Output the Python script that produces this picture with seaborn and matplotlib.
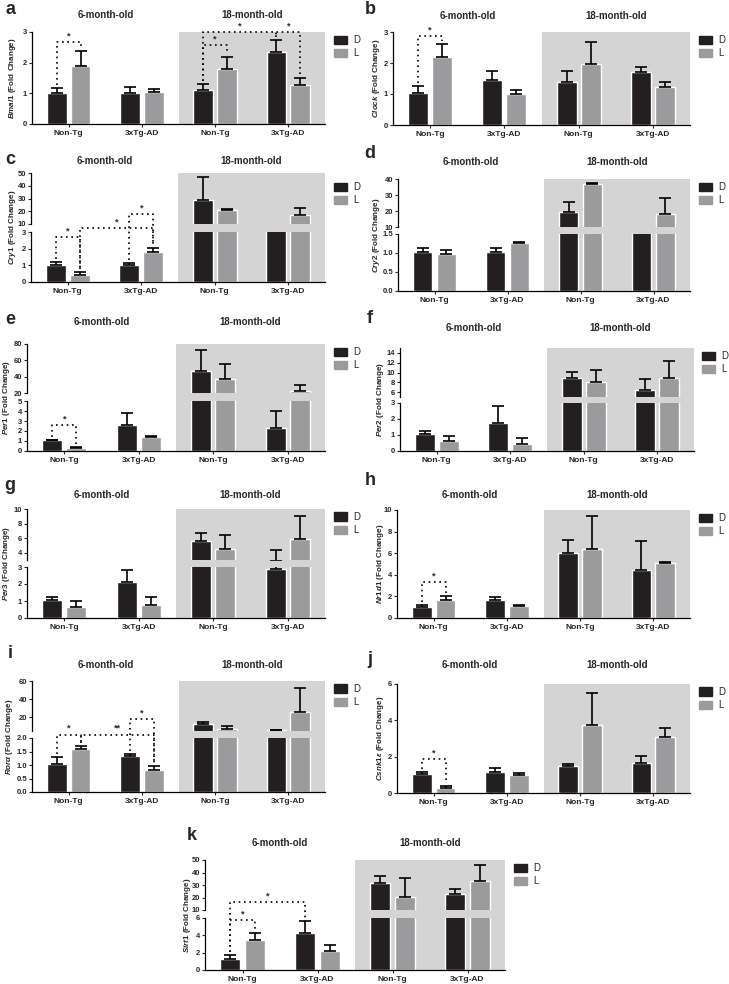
import numpy as np
import pandas as pd
import matplotlib
matplotlib.use("Agg")
import matplotlib.pyplot as plt
import seaborn as sns
from matplotlib.lines import Line2D
from matplotlib.patches import Patch

sns.set_style("white")
plt.rcParams["font.family"] = ["Liberation Sans", "DejaVu Sans"]
plt.rcParams["mathtext.fontset"] = "custom"
plt.rcParams["mathtext.it"] = "Liberation Sans:italic:bold"
plt.rcParams["mathtext.rm"] = "Liberation Sans:bold"

# ---- data (mean, SEM) ----
groups = ["6-Non-Tg", "6-3xTg-AD", "18-Non-Tg", "18-3xTg-AD"]
group_labels = ["Non-Tg", "3xTg-AD", "Non-Tg", "3xTg-AD"]
ages = ["6-month-old", "18-month-old"]
light = ["D", "L"]

bmal1_d = [1.02, 1.00, 1.12, 2.35]
bmal1_d_sem = [0.15, 0.20, 0.20, 0.40]
bmal1_l = [1.90, 1.05, 1.78, 1.27]
bmal1_l_sem = [0.47, 0.08, 0.40, 0.22]

clock_d = [1.03, 1.45, 1.40, 1.70]
clock_d_sem = [0.22, 0.30, 0.35, 0.18]
clock_l = [2.18, 1.00, 1.97, 1.23]
clock_l_sem = [0.43, 0.12, 0.70, 0.15]

cry1_d = [1.03, 1.02, 29.0, 6.0]
cry1_d_sem = [0.15, 0.15, 18.0, 0.0]
cry1_l = [0.43, 1.80, 21.0, 17.0]
cry1_l_sem = [0.20, 0.25, 0.7, 5.5]

cry2_d = [1.02, 1.02, 19.5, 5.0]
cry2_d_sem = [0.10, 0.10, 6.0, 0.0]
cry2_l = [0.98, 1.27, 37.0, 18.0]
cry2_l_sem = [0.10, 0.02, 0.6, 10.0]

per1_d = [1.05, 2.60, 47.0, 2.30]
per1_d_sem = [0.08, 1.20, 26.0, 1.70]
per1_l = [0.30, 1.40, 37.0, 22.5]
per1_l_sem = [0.10, 0.12, 18.5, 7.0]

per2_d = [1.05, 1.72, 8.9, 6.4]
per2_d_sem = [0.17, 1.10, 1.2, 2.3]
per2_l = [0.65, 0.45, 8.0, 8.9]
per2_l_sem = [0.30, 0.35, 2.6, 3.4]

per3_d = [1.05, 2.10, 5.6, 2.9]
per3_d_sem = [0.17, 0.70, 1.1, 1.5]
per3_l = [0.63, 0.78, 4.5, 5.9]
per3_l_sem = [0.35, 0.45, 1.9, 3.1]

nr1d1_d = [1.05, 1.65, 6.0, 4.4]
nr1d1_d_sem = [0.15, 0.27, 1.25, 2.7]
nr1d1_l = [1.70, 1.15, 6.4, 5.05]
nr1d1_l_sem = [0.30, 0.08, 3.0, 0.15]

rora_d = [1.03, 1.33, 12.2, 5.6]
rora_d_sem = [0.25, 0.08, 2.6, 0.3]
rora_l = [1.58, 0.83, 7.2, 26.0]
rora_l_sem = [0.12, 0.15, 2.8, 26.0]

csnk_d = [1.02, 1.18, 1.48, 1.65]
csnk_d_sem = [0.15, 0.22, 0.10, 0.40]
csnk_l = [0.28, 0.97, 3.75, 3.10]
csnk_l_sem = [0.08, 0.15, 1.75, 0.50]

sirt1_d = [1.25, 4.25, 31.8, 22.8]
sirt1_d_sem = [0.50, 1.40, 5.6, 4.0]
sirt1_l = [3.45, 2.25, 20.6, 33.2]
sirt1_l_sem = [0.85, 0.60, 15.2, 12.8]

# ---- style ----
W, H = 729, 984
colors = {"D": "#231f20", "L": "#9b9b9d"}
shade = "#d4d4d4"

fig = plt.figure(figsize=(W / 100, H / 100), dpi=100)


def make_df(d, d_sem, l, l_sem):
    return pd.DataFrame({
        "group": groups * 2,
        "light": ["D"] * 4 + ["L"] * 4,
        "value": d + l,
        "sem": d_sem + l_sem,
    })


def px_ax(x0, x1, ytop, ybot):
    ax = fig.add_axes([x0 / W, 1 - ybot / H, (x1 - x0) / W, (ybot - ytop) / H])
    ax.set_facecolor("none")
    return ax


def to_fig(ax, x, y):
    return fig.transFigure.inverted().transform(ax.transData.transform((x, y)))


def draw_bars(ax, df, ylim, ticks, ticklabels, span_top=1.0, bottom=True):
    ax.axvspan(1.5, 3.5, ymin=0, ymax=span_top, color=shade, lw=0, zorder=0, clip_on=False)
    sns.barplot(data=df, x="group", y="value", hue="light", order=groups,
                hue_order=light, palette=colors, errorbar=None, width=0.65,
                gap=0.17, saturation=1, legend=False, ax=ax, zorder=2)
    conts = list(ax.containers)
    lo, hi = ylim
    for cont, lev in zip(conts, light):
        sem = df[df["light"] == lev]["sem"].values
        for b, s in zip(cont, sem):
            m = b.get_height()
            # only the part of the error bar that falls inside this segment
            if s <= 0 or m + s <= lo or m >= hi:
                continue
            ax.errorbar([b.get_x() + b.get_width() / 2], [m], yerr=[[0], [s]], fmt="none",
                        ecolor="black", elinewidth=1.2, capsize=4, capthick=1.2, zorder=3)
    ax.set_xlim(-0.5, 3.5)
    ax.set_ylim(*ylim)
    ax.set_yticks(ticks)
    ax.set_yticklabels(ticklabels, fontsize=5.5, fontweight="bold")
    ax.set_xlabel("")
    ax.set_ylabel("")
    ax.grid(False)
    for s in ["top", "right"]:
        ax.spines[s].set_visible(False)
    for s in ["left", "bottom"]:
        ax.spines[s].set_linewidth(0.9)
        ax.spines[s].set_color("black")
    ax.tick_params(axis="y", direction="out", length=2.5, width=0.8, pad=1, left=True)
    if bottom:
        ax.set_xticks(range(4))
        ax.set_xticklabels(group_labels, fontsize=6, fontweight="bold")
        ax.tick_params(axis="x", direction="out", length=2.5, width=0.8, pad=2, bottom=True)
    else:
        ax.spines["bottom"].set_visible(False)
        ax.tick_params(axis="x", bottom=False, labelbottom=False)
    return conts


def draw_panel(letter, ylabel, d, d_sem, l, l_sem, xs, lower, upper=None,
               brackets=(), letter_y=0, title_y=0, letter_x=None, label_off=18,
               legend_dy=0, legend_dx=5):
    df = make_df(d, d_sem, l, l_sem)
    x0, x1 = xs
    if upper is None:
        yt, yb, lim, ticks, labs = lower
        axb = px_ax(x0, x1, yt, yb)
        conts = draw_bars(axb, df, lim, ticks, labs)
        axt = None
        top_px, bot_px = yt, yb
        leg_ax = axb
    else:
        byt, byb, blim, bticks, blabs = lower
        tyt, tyb, tlim, tticks, tlabs = upper
        axb = px_ax(x0, x1, byt, byb)
        gap = (byt - tyb) / (byb - byt)
        conts = draw_bars(axb, df, blim, bticks, blabs, span_top=1 + gap)
        axt = px_ax(x0, x1, tyt, tyb)
        draw_bars(axt, df, tlim, tticks, tlabs, bottom=False)
        top_px, bot_px = tyt, byb
        leg_ax = axt

    # panel letter, age titles, y label
    lx = letter_x if letter_x is not None else (10 if x0 < 300 else 370)
    fig.text(lx / W, 1 - letter_y / H, letter, fontsize=13, fontweight="bold",
             ha="center", va="center")
    for i, age in enumerate(ages):
        fx = to_fig(axb, 0.5 + 2 * i, 0)[0]
        fig.text(fx, 1 - title_y / H, age, fontsize=7, fontweight="bold",
                 ha="center", va="center")
    fig.text((x0 - label_off) / W, 1 - (top_px + bot_px) / 2 / H, ylabel,
             rotation=90, fontsize=5.8, fontweight="bold", ha="center", va="center")

    handles = [Patch(color=colors[k], label=k) for k in light]
    leg_ax.legend(handles=handles, loc="upper left", frameon=False, fontsize=7,
                  bbox_to_anchor=((x1 + legend_dx) / W, 1 - (top_px - 1 + legend_dy) / H),
                  bbox_transform=fig.transFigure, borderaxespad=0,
                  handlelength=1.3, handleheight=0.9, handletextpad=0.7,
                  labelspacing=0.35)

    # significance brackets
    tops = {lev: [m + s for m, s in zip(df[df.light == lev]["value"], df[df.light == lev]["sem"])]
            for lev in light}

    def value_y(v):
        blim_hi = axb.get_ylim()[1]
        if axt is None or v <= blim_hi:
            return to_fig(axb, 0, v)[1]
        tlim_lo = axt.get_ylim()[0]
        if v >= tlim_lo:
            return to_fig(axt, 0, v)[1]
        lo = to_fig(axb, 0, blim_hi)[1]
        hi = to_fig(axt, 0, tlim_lo)[1]
        return lo + (v - blim_hi) / (tlim_lo - blim_hi) * (hi - lo)

    for g1, h1, g2, h2, yv, txt in brackets:
        b1 = conts[light.index(h1)][g1]
        b2 = conts[light.index(h2)][g2]
        fx1 = to_fig(axb, b1.get_x() + b1.get_width() / 2, 0)[0]
        fx2 = to_fig(axb, b2.get_x() + b2.get_width() / 2, 0)[0]
        fy = value_y(yv)
        fy1 = value_y(tops[h1][g1]) + 3 / H
        fy2 = value_y(tops[h2][g2]) + 3 / H
        fig.add_artist(Line2D([fx1, fx1, fx2, fx2], [fy1, fy, fy, fy2],
                              transform=fig.transFigure, color="black", lw=1.2,
                              ls=(0, (1, 2.2)), dash_capstyle="butt"))
        fig.text((fx1 + fx2) / 2, fy + 1.5 / H, txt, fontsize=6.5, fontweight="bold",
                 ha="center", va="bottom")


def gl(gene, suffix=" (Fold Change)"):
    return "$\\mathit{" + gene + "}$" + suffix


draw_panel("a", gl("Bmal1"), bmal1_d, bmal1_d_sem, bmal1_l, bmal1_l_sem,
           (32, 325), (32, 124, (0, 3), [0, 1, 2, 3], ["0", "1", "2", "3"]),
           brackets=[(0, "D", 0, "L", 2.68, "*"), (2, "D", 2, "L", 2.57, "*"),
                     (2, "D", 3, "D", 3.0, "*"), (3, "D", 3, "L", 3.0, "*")],
           letter_y=10, title_y=15, label_off=20)

draw_panel("b", gl("Clock"), clock_d, clock_d_sem, clock_l, clock_l_sem,
           (393, 690), (32, 125, (0, 3), [0, 1, 2, 3], ["0", "1", "2", "3"]),
           brackets=[(0, "D", 0, "L", 2.87, "*")],
           letter_y=10, title_y=16, label_off=16)

draw_panel("c", gl("Cry1"), cry1_d, cry1_d_sem, cry1_l, cry1_l_sem,
           (31, 325), (232, 282, (0, 3), [0, 1, 2, 3], ["0", "1", "2", "3"]),
           upper=(173, 224, (10, 50), [10, 20, 30, 40, 50], ["10", "20", "30", "40", "50"]),
           brackets=[(0, "D", 0, "L", 2.7, "*"), (0, "L", 1, "L", 6.5, "*"),
                     (1, "D", 1, "L", 17.8, "*")],
           letter_y=159, title_y=161, label_off=19, legend_dy=6)

draw_panel("d", gl("Cry2"), cry2_d, cry2_d_sem, cry2_l, cry2_l_sem,
           (398, 690), (234, 291, (0, 1.5), [0, 0.5, 1.0, 1.5], ["0.0", "0.5", "1.0", "1.5"]),
           upper=(179, 227, (10, 40), [10, 20, 30, 40], ["10", "20", "30", "40"]),
           letter_y=153, title_y=162, label_off=21)

draw_panel("e", gl("Per1"), per1_d, per1_d_sem, per1_l, per1_l_sem,
           (27, 325), (401, 451, (0, 5), [0, 1, 2, 3, 4, 5], ["0", "1", "2", "3", "4", "5"]),
           upper=(344, 393, (20, 80), [20, 40, 60, 80], ["20", "40", "60", "80"]),
           brackets=[(0, "D", 0, "L", 2.6, "*")],
           letter_y=319, title_y=322, label_off=20)

draw_panel("f", gl("Per2"), per2_d, per2_d_sem, per2_l, per2_l_sem,
           (400, 694), (403, 451, (0, 3), [0, 1, 2, 3], ["0", "1", "2", "3"]),
           upper=(348, 397, (5, 15), [6, 8, 10, 12, 14], ["6", "8", "10", "12", "14"]),
           letter_y=318, title_y=328, label_off=20, legend_dx=4)

draw_panel("g", gl("Per3"), per3_d, per3_d_sem, per3_l, per3_l_sem,
           (27, 325), (567, 618, (0, 3), [0, 1, 2, 3], ["0", "1", "2", "3"]),
           upper=(509, 560, (3, 10), [4, 6, 8, 10], ["4", "6", "8", "10"]),
           letter_y=485, title_y=495, label_off=20)

draw_panel("h", gl("Nr1d1"), nr1d1_d, nr1d1_d_sem, nr1d1_l, nr1d1_l_sem,
           (397, 690), (510, 618, (0, 10), [0, 2, 4, 6, 8, 10], ["0", "2", "4", "6", "8", "10"]),
           brackets=[(0, "D", 0, "L", 3.33, "*")],
           letter_y=481, title_y=495, label_off=17)

draw_panel("i", gl("Ror\\alpha"), rora_d, rora_d_sem, rora_l, rora_l_sem,
           (32, 325), (738, 792, (0, 2), [0, 0.5, 1.0, 1.5, 2.0], ["0.0", "0.5", "1.0", "1.5", "2.0"]),
           upper=(681, 731, (5, 60), [20, 40, 60], ["20", "40", "60"]),
           brackets=[(0, "D", 0, "L", 3.5, "*"), (0, "L", 1, "L", 3.5, "**"),
                     (1, "D", 1, "L", 17.8, "*")],
           letter_y=653, title_y=665, label_off=22)

draw_panel("j", gl("Csnk1\\varepsilon"), csnk_d, csnk_d_sem, csnk_l, csnk_l_sem,
           (397, 690), (684, 793, (0, 6), [0, 2, 4, 6], ["0", "2", "4", "6"]),
           brackets=[(0, "D", 0, "L", 1.85, "*")],
           letter_y=659, title_y=665, label_off=17)

draw_panel("k", gl("Sirt1"), sirt1_d, sirt1_d_sem, sirt1_l, sirt1_l_sem,
           (205, 505), (918, 970, (0, 6), [0, 2, 4, 6], ["0", "2", "4", "6"]),
           upper=(860, 910, (10, 50), [10, 20, 30, 40, 50], ["10", "20", "30", "40", "50"]),
           brackets=[(0, "D", 0, "L", 5.75, "*"), (0, "D", 1, "D", 16.6, "*")],
           letter_y=835, title_y=843, letter_x=192, label_off=17)

fig.savefig("out.png", dpi=100)
